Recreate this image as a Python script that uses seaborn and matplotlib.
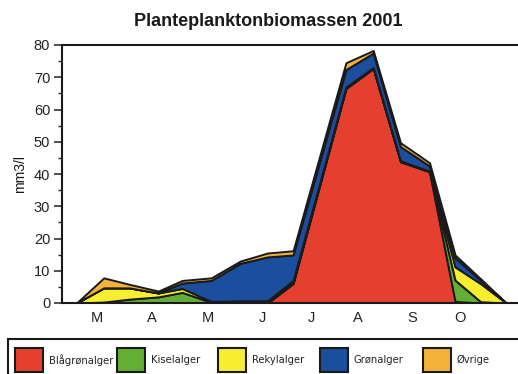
import matplotlib
matplotlib.use("Agg")
import matplotlib.pyplot as plt
from matplotlib.patches import Rectangle
import seaborn as sns

# Sampling dates (day of year, 2001)
sample_days = [62, 78, 93, 110, 124, 141, 158, 174, 189, 220, 236, 252, 269, 284, 299, 314]

# Biomass per group, mm3/l
blagronalger = [0, 0, 0, 0, 0, 0, 0, 0, 6.0, 66.5, 72.7, 43.8, 40.7, 0.5, 0, 0]
kiselalger = [0, 0.3, 1.2, 1.9, 3.3, 0.2, 0.3, 0.3, 0.3, 0.2, 0.1, 0.1, 0.1, 6.6, 0.4, 0]
rekylalger = [0, 4.4, 3.5, 1.2, 1.2, 0.3, 0.4, 0.4, 0.7, 0.3, 0.2, 0.2, 0.1, 4.1, 5.6, 0]
gronalger = [0, 0, 0, 0, 1.7, 6.5, 11.6, 13.6, 7.9, 5.4, 4.5, 4.4, 1.6, 2.8, 1.0, 0]
ovrige = [0, 3.1, 1.1, 0.6, 0.8, 0.8, 0.7, 1.2, 1.3, 2.1, 0.8, 1.2, 1.0, 0.9, 0.5, 0]

group_names = ["Blågrønalger", "Kiselalger", "Rekylalger", "Grønalger", "Øvrige"]
group_colors = ["#E5402F", "#63AE35", "#F6EE2E", "#1C4E9E", "#F4B23A"]

month_days = [74, 106, 139, 171, 200, 227, 259, 287]
month_labels = ["M", "A", "M", "J", "J", "A", "S", "O"]

sns.set_theme(style="white")
plt.rcParams["font.family"] = ["Liberation Sans", "DejaVu Sans"]

W, H = 518, 374
fig = plt.figure(figsize=(W / 100, H / 100), dpi=100)
ax = fig.add_axes([62 / W, 1 - 303 / H, (W - 62) / W, (303 - 45) / H])

ax.stackplot(sample_days, blagronalger, kiselalger, rekylalger, gronalger, ovrige,
             colors=group_colors, edgecolor="#1a1a1a", linewidth=1.4)

ax.set_xlim(53.5, 320.9)
ax.set_ylim(0, 80)
ax.set_yticks(range(0, 81, 10))
ax.set_yticks(range(5, 80, 10), minor=True)
ax.set_xticks(month_days)
ax.set_xticklabels(month_labels)
ax.tick_params(axis="y", which="major", direction="out", length=5.5, width=1.1,
               color="#222222", labelsize=10.5, pad=3, left=True)
ax.tick_params(axis="y", which="minor", direction="out", length=3, width=1.0,
               color="#222222", left=True)
ax.tick_params(axis="x", length=0, labelsize=10.5, pad=6)
for lbl in ax.get_xticklabels() + ax.get_yticklabels():
    lbl.set_color("#222222")

for side in ["top", "bottom", "left"]:
    ax.spines[side].set_color("#1a1a1a")
    ax.spines[side].set_linewidth(1.5)
ax.spines["right"].set_visible(False)

ax.set_ylabel("mm3/l", fontsize=10, color="#1a1a1a", labelpad=5)

fig.text(268 / W, 1 - 21 / H, "Planteplanktonbiomassen 2001", ha="center", va="center",
         fontsize=13, fontweight="bold", color="#1a1a1a")

# Legend box running off the bottom edge
fig.add_artist(Rectangle((8 / W, -0.05), 1.0, (1 - 339 / H) + 0.05, transform=fig.transFigure,
                         facecolor="white", edgecolor="#1a1a1a", linewidth=1.5))
swatch_x = [15, 117, 218, 320, 423]
for x0, name, col in zip(swatch_x, group_names, group_colors):
    fig.add_artist(Rectangle((x0 / W, 1 - 372 / H), 28 / W, 24 / H, transform=fig.transFigure,
                             facecolor=col, edgecolor="#1a1a1a", linewidth=1.5))
    fig.text((x0 + 34) / W, 1 - 360 / H, name, ha="left", va="center",
             fontsize=7.2, color="#222222", family=["DejaVu Sans"])

fig.savefig("out.png", dpi=100)
